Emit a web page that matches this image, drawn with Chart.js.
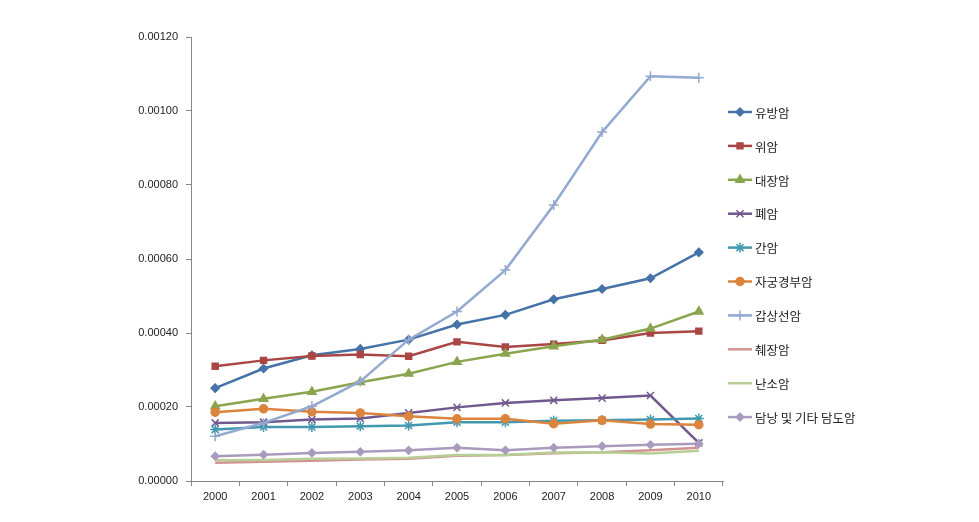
<!DOCTYPE html>
<html>
<head>
<meta charset="utf-8">
<script src="https://cdn.jsdelivr.net/npm/chart.js@4"></script>
<style>
  body { margin: 0; background: #fff; }
</style>
</head>
<body>
<canvas id="cancerChart" width="979" height="522"></canvas>
<script>
var years = ["2000", "2001", "2002", "2003", "2004", "2005", "2006", "2007", "2008", "2009", "2010"];
var seriesNames = ["유방암", "위암", "대장암", "폐암", "간암", "자궁경부암", "갑상선암", "췌장암", "난소암", "담낭 및 기타 담도암"];

var breast = [0.000251, 0.000304, 0.000340, 0.000357, 0.000382, 0.000423, 0.000449, 0.000491, 0.000519, 0.000548, 0.000618];
var stomach = [0.000310, 0.000326, 0.000338, 0.000342, 0.000337, 0.000376, 0.000362, 0.000370, 0.000380, 0.000400, 0.000405];
var colorectal = [0.000202, 0.000222, 0.000241, 0.000267, 0.000290, 0.000322, 0.000344, 0.000364, 0.000382, 0.000412, 0.000458];
var lung = [0.000157, 0.000159, 0.000166, 0.000169, 0.000184, 0.000199, 0.000211, 0.000218, 0.000224, 0.000231, 0.000103];
var liver = [0.000139, 0.000146, 0.000146, 0.000148, 0.000150, 0.000159, 0.000159, 0.000163, 0.000164, 0.000166, 0.000169];
var cervix = [0.000186, 0.000195, 0.000187, 0.000184, 0.000175, 0.000168, 0.000168, 0.000155, 0.000164, 0.000154, 0.000152];
var thyroid = [0.000121, 0.000157, 0.000202, 0.000269, 0.000382, 0.000458, 0.000570, 0.000746, 0.000943, 0.001094, 0.001090];
var pancreas = [0.000049, 0.000052, 0.000055, 0.000058, 0.000060, 0.000068, 0.000070, 0.000075, 0.000078, 0.000083, 0.000090];
var ovary = [0.000056, 0.000057, 0.000060, 0.000061, 0.000063, 0.000070, 0.000070, 0.000077, 0.000078, 0.000074, 0.000082];
var gallbladder = [0.000067, 0.000071, 0.000076, 0.000079, 0.000083, 0.000090, 0.000083, 0.000090, 0.000094, 0.000098, 0.000101];

var yTicks = [0, 0.0002, 0.0004, 0.0006, 0.0008, 0.0010, 0.0012];

var allValues = [breast, stomach, colorectal, lung, liver, cervix, thyroid, pancreas, ovary, gallbladder];
var colors = ["#4572A7", "#AA4643", "#89A54E", "#71588F", "#4198AF", "#DB843D", "#93A9CF", "#D19392", "#B9CD96", "#A99BBD"];
var markers = ["rectRot", "rect", "triangle", "crossRot", "star", "circle", "cross", false, false, "rectRot"];
var markerSizes = [4, 4.2, 4.8, 5, 5, 4, 5, 0, 0, 3.8];

var datasets = [];
for (var i = 0; i < seriesNames.length; i++) {
  datasets.push({
    label: seriesNames[i],
    data: allValues[i],
    borderColor: colors[i],
    backgroundColor: colors[i],
    pointBorderColor: colors[i],
    pointBackgroundColor: colors[i],
    pointStyle: markers[i],
    pointRadius: markerSizes[i],
    pointBorderWidth: 1.5,
    borderWidth: 2.5,
    tension: 0,
    order: 20 - i,
  });
}

// legend drawn by hand so it looks like the Excel one (line with marker)
var legendPlugin = {
  id: "excelLegend",
  afterDraw: function (chart) {
    var ctx = chart.ctx;
    ctx.save();
    chart.data.datasets.forEach(function (ds, i) {
      var y = 112 + i * 33.9;
      ctx.strokeStyle = ds.borderColor;
      ctx.lineWidth = 2.5;
      ctx.beginPath();
      ctx.moveTo(728, y);
      ctx.lineTo(752, y);
      ctx.stroke();
      if (ds.pointStyle) {
        ctx.fillStyle = ds.borderColor;
        ctx.lineWidth = 1.5;
        Chart.helpers.drawPoint(ctx, { pointStyle: ds.pointStyle, radius: ds.pointRadius, rotation: 0, borderWidth: 1.5 }, 740, y);
      }
      ctx.fillStyle = "#222";
      ctx.font = "12.5px 'Noto Sans CJK KR'";
      ctx.textAlign = "left";
      ctx.textBaseline = "middle";
      ctx.fillText(ds.label, 755, y + 1);
    });
    ctx.restore();
  },
};

var ctx = document.getElementById("cancerChart").getContext("2d");
var chart = new Chart(ctx, {
  type: "line",
  data: { labels: years, datasets: datasets },
  options: {
    responsive: false,
    animation: false,
    layout: { padding: { top: 37, right: 256, bottom: 0, left: 0 } },
    plugins: { legend: { display: false }, tooltip: { enabled: false } },
    scales: {
      x: {
        offset: true,
        border: { color: "#868686", width: 1 },
        grid: { display: true, offset: true, drawOnChartArea: false, drawTicks: true, tickLength: 5, color: "#868686" },
        ticks: { color: "#222", padding: 4, font: { family: "'Liberation Sans', Arial", size: 11 } },
        afterFit: function (s) { s.height = 41; },
      },
      y: {
        min: 0,
        max: 0.0012,
        border: { color: "#868686", width: 1 },
        grid: { display: true, drawOnChartArea: false, drawTicks: true, tickLength: 5, color: "#868686" },
        afterBuildTicks: function (s) {
          s.ticks = yTicks.map(function (v) { return { value: v }; });
        },
        ticks: {
          color: "#222",
          padding: 8,
          font: { family: "'Liberation Sans', Arial", size: 11 },
          callback: function (v) { return Number(v).toFixed(5); },
        },
        afterFit: function (s) { s.width = 191; },
      },
    },
  },
  plugins: [legendPlugin],
});
</script>
</body>
</html>
